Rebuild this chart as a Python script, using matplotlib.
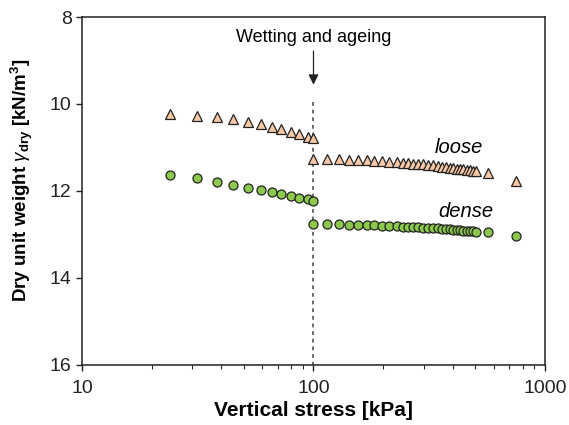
import numpy as np
import matplotlib.pyplot as plt
from matplotlib.ticker import FixedLocator, NullFormatter

plt.rcParams['font.family'] = ['Liberation Sans', 'DejaVu Sans']
plt.rcParams['mathtext.fontset'] = 'custom'
plt.rcParams['mathtext.rm'] = 'Liberation Sans'
plt.rcParams['mathtext.it'] = 'Liberation Sans:italic'
plt.rcParams['mathtext.bf'] = 'Liberation Sans:bold'

# Loose sample, before wetting
loose_pre_x = [24.0, 31.3, 38.2, 45.0, 52.0, 59.2, 66.0, 72.6, 79.7, 86.9, 94.4, 100.0]
loose_pre_y = [10.23, 10.28, 10.29, 10.35, 10.42, 10.47, 10.53, 10.58, 10.64, 10.70, 10.75, 10.79]

# Dense sample, before wetting
dense_pre_x = loose_pre_x
dense_pre_y = [11.64, 11.69, 11.79, 11.86, 11.93, 11.98, 12.02, 12.07, 12.11, 12.15, 12.19, 12.23]

# After wetting and ageing
post_x = [100.0, 114.7, 128.8, 142.8, 156.2, 169.8, 182.5, 197.0, 212.5, 228.8,
          242.9, 256.8, 269.9, 283.6, 298.1, 313.3, 329.2, 344.0, 357.9, 372.5,
          387.6, 401.7, 415.5, 429.4, 443.7, 459.0, 474.3, 489.8, 503.5, 567.0, 750.0]
loose_post_y = [11.26, 11.26, 11.26, 11.28, 11.29, 11.29, 11.30, 11.32, 11.33, 11.34,
                11.35, 11.36, 11.37, 11.38, 11.39, 11.40, 11.41, 11.43, 11.44, 11.45,
                11.46, 11.48, 11.49, 11.49, 11.50, 11.52, 11.52, 11.53, 11.54, 11.58, 11.78]
dense_post_y = [12.77, 12.77, 12.77, 12.78, 12.78, 12.79, 12.79, 12.80, 12.80, 12.81,
                12.82, 12.82, 12.83, 12.83, 12.84, 12.85, 12.85, 12.86, 12.87, 12.87,
                12.88, 12.89, 12.89, 12.90, 12.91, 12.91, 12.92, 12.93, 12.94, 12.95, 13.04]

tri_style = dict(marker='^', linestyle='none', markersize=7,
                 markerfacecolor='#f9c9a6', markeredgecolor='#222222', markeredgewidth=0.9)
circ_style = dict(marker='o', linestyle='none', markersize=6.5,
                  markerfacecolor='#8cc84b', markeredgecolor='#222222', markeredgewidth=0.9)

fig = plt.figure(figsize=(5.69, 4.25), dpi=100)
ax = fig.add_axes([0.1441, 0.1412, 0.8137, 0.8188])

ax.plot(loose_pre_x, loose_pre_y, **tri_style)
ax.plot(post_x, loose_post_y, **tri_style)
ax.plot(dense_pre_x, dense_pre_y, **circ_style)
ax.plot(post_x, dense_post_y, **circ_style)

# wetting line
ax.plot([100, 100], [9.95, 16], color='#444444', linestyle=(0, (2.5, 2.5)), linewidth=1.1, zorder=0)
ax.annotate('', xy=(100, 9.62), xytext=(100, 8.72),
            arrowprops=dict(arrowstyle='-|>', color='#222222', lw=0.9,
                            mutation_scale=15))
ax.text(100, 8.47, 'Wetting and ageing', ha='center', va='center', fontsize=13)

ax.text(425, 11.0, 'loose', style='italic', ha='center', va='center', fontsize=14.5)
ax.text(455, 12.46, 'dense', style='italic', ha='center', va='center', fontsize=14.5)

ax.set_xscale('log')
ax.set_xlim(10, 1000)
ax.set_ylim(16, 8)
ax.set_yticks([8, 10, 12, 14, 16])
ax.set_xticks([10, 100, 1000])
ax.set_xticklabels(['10', '100', '1000'])
ax.xaxis.set_minor_locator(FixedLocator([k * 10 ** e for e in (1, 2) for k in range(2, 10)]))
ax.xaxis.set_minor_formatter(NullFormatter())

ax.tick_params(axis='both', which='major', direction='out', length=4, width=1.0,
               labelsize=14, colors='#222222')
ax.tick_params(axis='x', which='major', pad=7)
ax.tick_params(axis='x', which='minor', direction='out', length=3, width=0.8, colors='#222222')
for s in ax.spines.values():
    s.set_linewidth(1.1)
    s.set_color('#222222')

ax.set_xlabel('Vertical stress [kPa]', fontsize=15, fontweight='bold', labelpad=3)
ax.set_ylabel(r'Dry unit weight $\gamma_{\mathbf{dry}}$ [kN/m$^{\mathbf{3}}$]',
              fontsize=13.5, fontweight='bold')
ax.yaxis.set_label_coords(-0.102, 0.53)

fig.savefig('out.png', dpi=100)
